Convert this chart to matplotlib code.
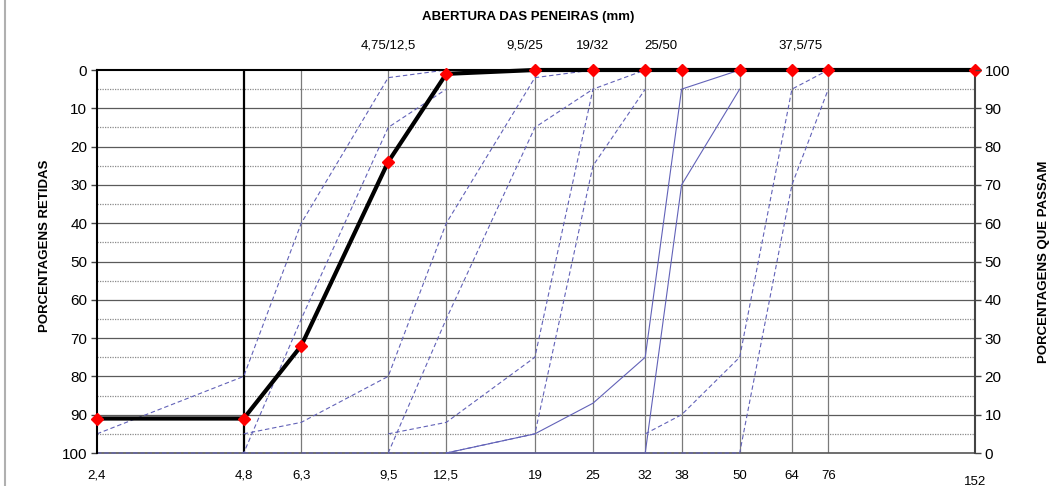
import matplotlib
matplotlib.use("Agg")
import matplotlib.pyplot as plt
from matplotlib.lines import Line2D
from matplotlib.transforms import ScaledTranslation

plt.rcParams['font.family'] = ['Liberation Sans', 'DejaVu Sans']

# ---------------- data ----------------
sieves = [2.4, 4.8, 6.3, 9.5, 12.5, 19, 25, 32, 38, 50, 64, 76, 152]
sieve_labels = ['2,4', '4,8', '6,3', '9,5', '12,5', '19', '25', '32', '38', '50', '64', '76', '152']
sample_retained = [91, 91, 72, 24, 1, 0, 0, 0, 0, 0, 0, 0, 0]

z1_min_x = [2.4, 4.8, 6.3, 9.5, 12.5]
z1_min_y = [95, 80, 40, 2, 0]
z1_max_x = [2.4, 4.8, 6.3, 9.5, 12.5]
z1_max_y = [100, 100, 65, 15, 5]

z2_min_x = [4.8, 6.3, 9.5, 12.5, 19, 25]
z2_min_y = [95, 92, 80, 40, 2, 0]
z2_max_x = [4.8, 6.3, 9.5, 12.5, 19, 25]
z2_max_y = [100, 100, 100, 65, 15, 5]

z3_min_x = [9.5, 12.5, 19, 25, 32]
z3_min_y = [95, 92, 75, 5, 0]
z3_max_x = [9.5, 12.5, 19, 25, 32]
z3_max_y = [100, 100, 95, 25, 5]

z4_min_x = [12.5, 19, 25, 32, 38, 50]
z4_min_y = [100, 95, 87, 75, 5, 0]
z4_max_x = [12.5, 19, 25, 32, 38, 50]
z4_max_y = [100, 100, 100, 100, 30, 5]

z5_min_x = [32, 38, 50, 64, 76]
z5_min_y = [95, 90, 75, 5, 0]
z5_max_x = [32, 38, 50, 64, 76]
z5_max_y = [100, 100, 100, 30, 5]

zone_labels = ['4,75/12,5', '9,5/25', '19/32', '25/50', '37,5/75']
zone_label_x = [9.5, 18.1, 25, 34.5, 66.6]

y_ticks = list(range(0, 101, 10))

# ---------------- figure ----------------
fig = plt.figure(figsize=(10.59, 4.86), dpi=100)
ax = fig.add_axes([97 / 1059, 1 - 453 / 486, (975 - 97) / 1059, (453 - 70) / 486])
ax.set_xscale('log')
ax.set_xlim(2.4, 152)
ax.set_ylim(100, 0)

# grid
for y in range(5, 100, 5):
    if y % 10 == 0:
        ax.axhline(y, color='#5a5a5a', lw=0.9, zorder=1)
    else:
        ax.axhline(y, color='#8a8a8a', lw=0.9, ls=(0, (1, 1)), zorder=1)
for x in sieves[1:-1]:
    if x == 4.8:
        ax.axvline(x, color='black', lw=1.6, zorder=1.5)
    else:
        ax.axvline(x, color='#7a7a7a', lw=0.9, zorder=1)

env_color = '#6262b8'
dash = (0, (4, 2.5))
for xs, ys, ls in [
    (z1_min_x, z1_min_y, dash), (z1_max_x, z1_max_y, dash),
    (z2_min_x, z2_min_y, dash), (z2_max_x, z2_max_y, dash),
    (z3_min_x, z3_min_y, dash), (z3_max_x, z3_max_y, dash),
    (z4_min_x, z4_min_y, '-'), (z4_max_x, z4_max_y, '-'),
    (z5_min_x, z5_min_y, dash), (z5_max_x, z5_max_y, dash),
]:
    ax.plot(xs, ys, color=env_color, lw=0.8, ls=ls, zorder=2.5, clip_on=False)

ax.plot(sieves, sample_retained, color='black', lw=3, zorder=4,
        marker='D', markersize=6, markerfacecolor='#ff0000',
        markeredgecolor='#ff0000', clip_on=False)

# axes styling
for side in ['left', 'top']:
    ax.spines[side].set_color('black')
    ax.spines[side].set_linewidth(1.5)
ax.spines['bottom'].set_color('#555555')
ax.spines['bottom'].set_linewidth(1.2)
ax.spines['bottom'].set_zorder(2)
ax.spines['right'].set_color('#444444')
ax.spines['right'].set_linewidth(1.5)

ax.set_xticks(sieves)
ax.set_xticklabels(sieve_labels)
ax.xaxis.set_minor_locator(matplotlib.ticker.NullLocator())
ax.tick_params(axis='x', length=0, pad=12, labelsize=9.5)
for lab in ax.get_xticklabels():
    if lab.get_text() == '152':
        lab.set_transform(lab.get_transform() + ScaledTranslation(0, -6 / 100, fig.dpi_scale_trans))

ax.set_yticks(y_ticks)
ax.tick_params(axis='y', length=4, width=1, labelsize=11, pad=3, color='#444444')
ax.set_ylabel('PORCENTAGENS RETIDAS', fontsize=9.5, fontweight='bold', labelpad=6)
ax.yaxis.set_label_coords(-0.052, 0.54)

ax2 = ax.twinx()
ax2.set_ylim(0, 100)
ax2.set_yticks(y_ticks)
ax2.tick_params(axis='y', length=4, width=1, labelsize=11, pad=3, color='#444444')
for s in ax2.spines.values():
    s.set_visible(False)
ax2.set_ylabel('PORCENTAGENS QUE PASSAM', fontsize=9.5, fontweight='bold', labelpad=20)

trans = ax.get_xaxis_transform()
for lbl, xv in zip(zone_labels, zone_label_x):
    ax.text(xv, 1.063, lbl, transform=trans, ha='center', va='center', fontsize=9.5)

fig.text(528 / 1059, 1 - 17 / 486, 'ABERTURA DAS PENEIRAS (mm)', ha='center', va='center',
         fontsize=9.5, fontweight='bold')

fig.add_artist(Line2D([5 / 1059, 5 / 1059], [0, 1], transform=fig.transFigure,
                      color='#b0b0b0', lw=1.5))

fig.savefig('out.png', dpi=100)
